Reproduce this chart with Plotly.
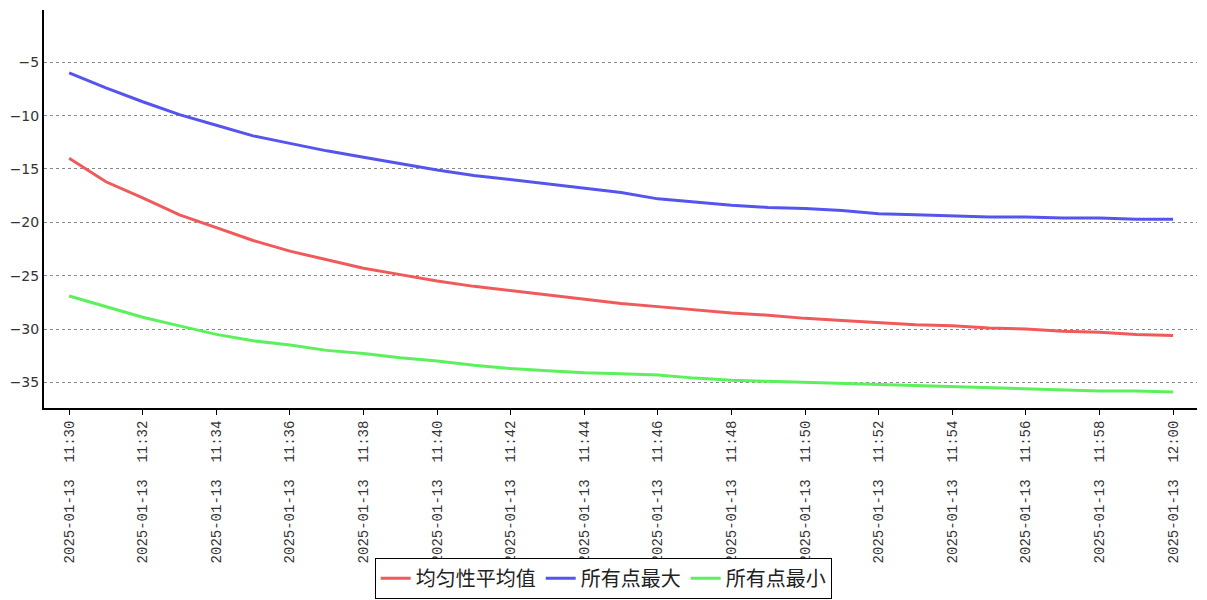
import plotly.graph_objects as go
import pandas as pd

times = pd.date_range("2025-01-13 11:30", "2025-01-13 12:00", freq="1min")

uniformity_avg = [-14.0, -16.2, -17.7, -19.3, -20.5, -21.7, -22.7, -23.5, -24.3, -24.9,
                  -25.5, -26.0, -26.4, -26.8, -27.2, -27.6, -27.9, -28.2, -28.5, -28.7,
                  -29.0, -29.2, -29.4, -29.6, -29.7, -29.9, -30.0, -30.2, -30.3, -30.5, -30.6]
all_max = [-6.0, -7.4, -8.7, -9.9, -10.9, -11.9, -12.6, -13.3, -13.9, -14.5,
           -15.1, -15.6, -16.0, -16.4, -16.8, -17.2, -17.8, -18.1, -18.4, -18.6,
           -18.7, -18.9, -19.2, -19.3, -19.4, -19.5, -19.5, -19.6, -19.6, -19.7, -19.7]
all_min = [-26.9, -27.9, -28.9, -29.7, -30.5, -31.1, -31.5, -32.0, -32.3, -32.7,
           -33.0, -33.4, -33.7, -33.9, -34.1, -34.2, -34.3, -34.6, -34.8, -34.9,
           -35.0, -35.1, -35.2, -35.3, -35.4, -35.5, -35.6, -35.7, -35.8, -35.8, -35.9]

names = ["均匀性平均值", "所有点最大", "所有点最小"]
colors = ["#f05a5a", "#5555ee", "#5cf05c"]
series = [uniformity_avg, all_max, all_min]

fig = go.Figure()
for name, color, vals in zip(names, colors, series):
    fig.add_trace(go.Scatter(x=times, y=vals, mode="lines", name=name,
                             line=dict(color=color, width=3)))

fig.update_layout(
    width=1199, height=592,
    margin=dict(l=36, r=10, t=2, b=190),
    plot_bgcolor="white", paper_bgcolor="white",
    font=dict(family="DejaVu Sans", color="#333"),
    showlegend=True,
    legend=dict(orientation="h", x=0.485, xanchor="center", y=-0.4275, yanchor="middle",
                bordercolor="black", borderwidth=1, bgcolor="white",
                font=dict(family="Noto Sans CJK SC", size=20, color="#222"),
                itemwidth=30, tracegroupgap=0),
)
fig.update_xaxes(
    range=[pd.Timestamp("2025-01-13 11:29:19"), pd.Timestamp("2025-01-13 12:00:39")],
    tick0="2025-01-13 11:30", dtick=120000, tickformat="%Y-%m-%d  %H:%M",
    tickangle=-90, tickfont=dict(family="Liberation Mono", size=14, color="#333"),
    showline=True, linecolor="black", linewidth=2, ticks="outside", ticklen=5,
    tickcolor="black", showgrid=False, zeroline=False, automargin=False,
)
fig.update_yaxes(
    range=[-37.4, -0.1], tick0=-5, dtick=5,
    tickfont=dict(family="DejaVu Sans", size=14, color="#333"),
    showline=True, linecolor="black", linewidth=2, ticks="",
    showgrid=True, gridcolor="#888", griddash="dot", gridwidth=1, zeroline=False,
    automargin=False,
)
fig.write_html("out.html")
